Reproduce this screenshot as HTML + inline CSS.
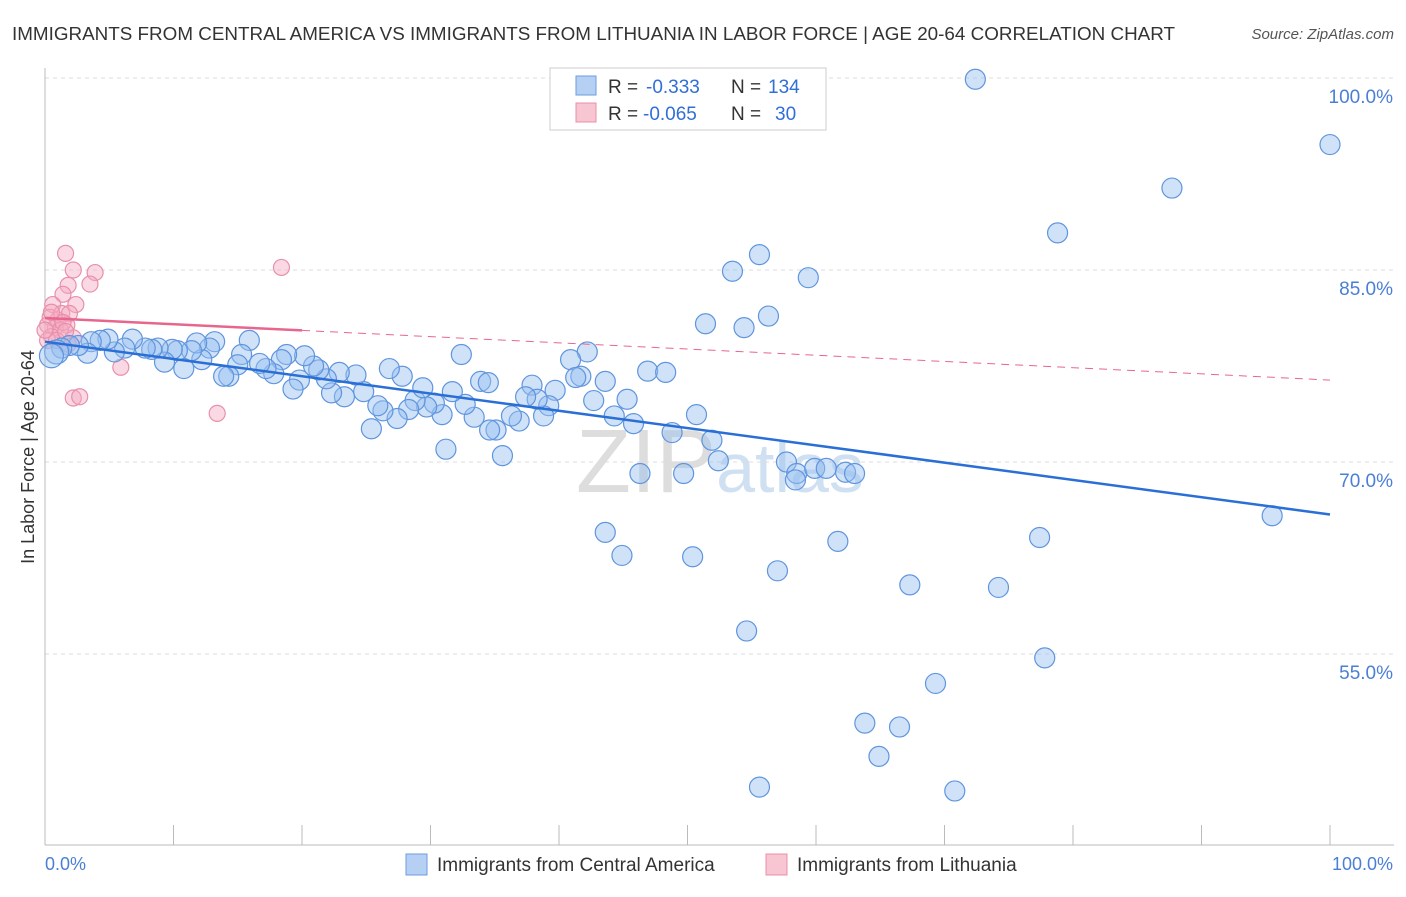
<!DOCTYPE html>
<html><head><meta charset="utf-8"><style>
body{margin:0;background:#fff;font-family:"Liberation Sans",sans-serif}
svg text{font-family:"Liberation Sans",sans-serif}
</style></head><body>
<svg id="c" width="1406" height="892">
<text x="12" y="40" font-size="18" fill="#333" textLength="1163" lengthAdjust="spacingAndGlyphs">IMMIGRANTS FROM CENTRAL AMERICA VS IMMIGRANTS FROM LITHUANIA IN LABOR FORCE | AGE 20-64 CORRELATION CHART</text>
<text x="1394" y="39" font-size="15" fill="#555" font-style="italic" text-anchor="end">Source: ZipAtlas.com</text>
<text transform="translate(34,457) rotate(-90)" font-size="18" fill="#333" text-anchor="middle">In Labor Force | Age 20-64</text>
<text x="720" y="492" font-size="90" fill="#ddd" text-anchor="middle" font-family="Liberation Serif">ZIP<tspan font-family="Liberation Sans" fill="#cfe0f3" font-size="70">atlas</tspan></text>
<g id="grid"></g><g id="pts"></g><g id="trend"></g>
<g>
<rect x="550" y="68" width="276" height="62" fill="#fff" stroke="#ccc"/>
<rect x="576" y="76" width="20" height="19" fill="#b5d0f3" stroke="#6b9de0"/>
<rect x="576" y="103" width="20" height="19" fill="#f8c5d3" stroke="#e890a8"/>
<text x="608" y="93" font-size="19" fill="#333">R =</text>
<text x="646" y="93" font-size="19" fill="#2f6fd6">-0.333</text>
<text x="731" y="93" font-size="19" fill="#333">N =</text>
<text x="768" y="93" font-size="19" fill="#2f6fd6">134</text>
<text x="608" y="120" font-size="19" fill="#333">R =</text>
<text x="643" y="120" font-size="19" fill="#2f6fd6">-0.065</text>
<text x="731" y="120" font-size="19" fill="#333">N =</text>
<text x="775" y="120" font-size="19" fill="#2f6fd6">30</text>
</g>
<g>
<rect x="406" y="854" width="21" height="21" fill="#b5d0f3" stroke="#6b9de0"/>
<text x="437" y="871" font-size="19" fill="#333">Immigrants from Central America</text>
<rect x="766" y="854" width="21" height="21" fill="#f8c5d3" stroke="#e890a8"/>
<text x="797" y="871" font-size="19" fill="#333">Immigrants from Lithuania</text>
</g>
<text x="45" y="870" font-size="18" fill="#4a7fd4">0.0%</text>
<text x="1393" y="870" font-size="18" fill="#4a7fd4" text-anchor="end">100.0%</text>
</svg>
<script>
const yTicks=[100,85,70,55];
const yTickLabels=["100.0%","85.0%","70.0%","55.0%"];
const blueX=[100,87.7,78.8,72.4,55.6,53.5,59.4,56.3,51.4,54.4,95.5,77.4,43.6,44.9,50.4,57.0,61.7,67.3,74.2,54.6,77.8,69.3,63.8,66.5,64.9,55.6,70.8,47.6,49.3,57.7,58.5,58.4,59.9,60.8,62.3,63.0,52.4,49.7,46.3,48.8,50.7,51.9,45.8,46.9,48.3,45.3,44.3,43.6,42.7,42.2,40.9,41.7,41.3,39.7,39.2,38.8,37.9,38.3,37.4,36.9,36.3,35.1,35.6,34.6,33.4,33.9,34.5,32.7,31.7,32.4,31.2,30.9,30.3,29.7,28.8,28.3,29.4,27.8,26.8,27.4,26.3,25.9,25.4,24.8,24.2,23.3,22.9,22.3,21.9,21.3,20.9,20.2,19.8,19.3,18.8,18.4,17.8,17.2,16.7,15.9,15.3,15.0,14.3,13.9,13.2,12.8,12.2,11.8,11.4,10.8,10.3,9.9,9.3,8.8,8.3,7.8,6.8,6.2,5.4,4.9,4.3,3.6,3.3,2.6,1.9,1.3,0.9,0.5];
const blueY=[94.8,91.4,87.9,99.9,86.2,84.9,84.4,81.4,80.8,80.5,65.8,64.1,64.5,62.7,62.6,61.5,63.8,60.4,60.2,56.8,54.7,52.7,49.6,49.3,47.0,44.6,44.3,99.9,99.9,70.0,69.1,68.6,69.5,69.5,69.2,69.1,70.1,69.1,69.1,72.3,73.7,71.7,73.0,77.1,77.0,74.9,73.6,76.3,74.8,78.6,78.0,76.7,76.6,75.6,74.4,73.6,76.0,74.9,75.1,73.2,73.6,72.5,70.5,72.5,73.5,76.3,76.2,74.5,75.5,78.4,71.0,73.7,74.6,74.3,74.8,74.1,75.8,76.7,77.3,73.4,74.0,74.4,72.6,75.5,76.8,75.1,77.0,75.4,76.5,77.2,77.5,78.3,76.4,75.7,78.4,78.0,76.9,77.3,77.7,79.5,78.4,77.6,76.7,76.7,79.4,78.9,78.0,79.3,78.7,77.3,78.7,78.8,77.8,78.9,78.8,78.9,79.6,78.9,78.6,79.6,79.5,79.4,78.5,79.1,79.1,78.9,78.6,78.3];
const pinkX=[1.6,2.2,3.9,3.5,1.8,1.4,2.4,18.4,0.6,0.4,1.0,1.3,1.9,1.7,0.8,0.2,1.2,0.5,0.2,2.2,1.8,5.9,2.2,2.7,13.4,0.5,0.9,1.4,0,1.6];
const pinkY=[86.3,85.0,84.8,83.9,83.8,83.1,82.3,85.2,82.3,81.3,81.1,81.6,81.6,80.7,80.5,80.7,80.3,79.8,79.5,79.7,79.2,77.4,75.0,75.1,73.8,81.7,79.5,80.9,80.3,80.2];
const blueTrend=[79.4,65.9];
const pinkTrend=[81.25,76.4];
const NS='http://www.w3.org/2000/svg';
const X=v=>45+v*12.85, Y=v=>78+(100-v)*12.8;
function mk(t,a,p){const e=document.createElementNS(NS,t);for(const k in a)e.setAttribute(k,a[k]);document.getElementById(p).appendChild(e);return e;}
yTicks.forEach((t,i)=>{
 const l=mk('line',{x1:45,x2:1394,y1:Y(t),y2:Y(t),stroke:'#ddd','stroke-dasharray':'4,4'},'grid');
 
 
 const tx=mk('text',{x:1393,y:Y(t)+25,'font-size':19,fill:'#4a7fd4','text-anchor':'end'},'grid');
 tx.textContent=yTickLabels[i];
 
 
});
const ax=mk('line',{x1:45,x2:45,y1:68,y2:845,stroke:'#bbb'},'grid');


const bx=mk('line',{x1:45,x2:1394,y1:845,y2:845,stroke:'#bbb'},'grid');


for(let i=0;i<=10;i++){const t=mk('line',{x1:X(i*10),x2:X(i*10),y1:825,y2:845,stroke:'#bbb'},'grid');
 
 }
pinkX.forEach((x,i)=>{const c=mk('circle',{cx:X(x),cy:Y(pinkY[i]),r:8,fill:'rgba(244,170,195,0.45)',stroke:'#e890a8','stroke-width':1.2},'pts');
 
 });
blueX.forEach((x,i)=>{const c=mk('circle',{cx:X(x),cy:Y(blueY[i]),r:i>=blueX.length-2?12:10,fill:'rgba(150,190,240,0.45)',stroke:'#5f95de','stroke-width':1.2},'pts');
 
 });
const bt=mk('line',{x1:X(0),y1:Y(blueTrend[0]),x2:X(100),y2:Y(blueTrend[1]),stroke:'#2a6fd6','stroke-width':2.5},'trend');


const py=x=>pinkTrend[0]+(pinkTrend[1]-pinkTrend[0])*x/100;
const pt=mk('line',{x1:X(0),y1:Y(py(0)),x2:X(20),y2:Y(py(20)),stroke:'#e8668e','stroke-width':2.5},'trend');


const pd=mk('line',{x1:X(20),y1:Y(py(20)),x2:X(100),y2:Y(py(100)),stroke:'#e8668e','stroke-width':1,'stroke-dasharray':'8,6'},'trend');


</script>
</body></html>
